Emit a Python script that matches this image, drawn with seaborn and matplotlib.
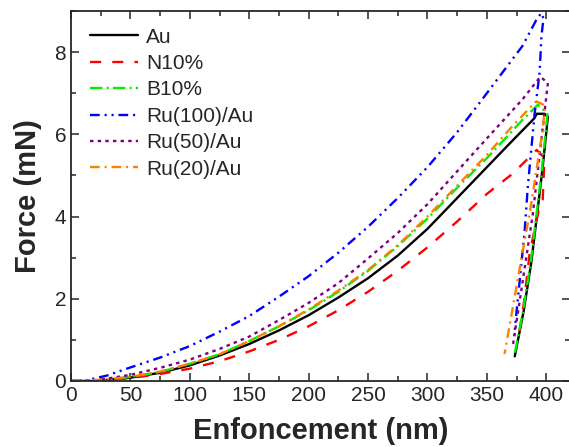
import numpy as np
import matplotlib
matplotlib.use("Agg")
import matplotlib.pyplot as plt
from matplotlib.ticker import MultipleLocator
import seaborn as sns

sns.set_style("ticks")
plt.rcParams['font.family'] = ['Liberation Sans', 'DejaVu Sans']
plt.rcParams['lines.scale_dashes'] = False

# loading + unloading curves (depth in nm, force in mN)
au_depth = [0, 20, 50, 75, 100, 125, 150, 175, 200, 225, 250, 275, 300, 325, 350, 370, 390,
            392, 398.6, 401.4, 397, 392.5, 387.5, 381, 373.5]
au_force = [0, 0, 0.08, 0.2, 0.38, 0.62, 0.9, 1.23, 1.6, 2.03, 2.5, 3.05, 3.7, 4.45, 5.2, 5.8, 6.39,
            6.5, 6.5, 6.43, 5.2, 4.1, 2.9, 1.7, 0.6]

n10_depth = [0, 20, 50, 75, 100, 125, 150, 175, 200, 225, 250, 275, 300, 325, 350, 372, 392,
             398.5, 397, 394, 386, 381.5, 376.5]
n10_force = [0, 0, 0.07, 0.17, 0.3, 0.48, 0.72, 1.0, 1.33, 1.72, 2.17, 2.68, 3.25, 3.88, 4.55, 5.05, 5.62,
             5.42, 4.4, 4.2, 3.1, 1.97, 1.0]

b10_depth = [0, 20, 50, 75, 100, 125, 150, 175, 200, 225, 250, 275, 300, 325, 350, 380, 393,
             401, 396.5, 392, 387, 380.5, 373]
b10_force = [0, 0, 0.1, 0.22, 0.42, 0.65, 0.97, 1.33, 1.72, 2.17, 2.68, 3.28, 3.95, 4.7, 5.42, 6.35, 6.72,
             6.5, 5.2, 4.1, 2.9, 1.7, 0.6]

ru100_depth = [0, 10, 30, 50, 75, 100, 125, 150, 175, 200, 225, 250, 275, 300, 325, 350, 380, 391.6, 395.8,
               397.7, 396, 394.4, 390.2, 384.5, 381.7, 376, 373]
ru100_force = [0, 0, 0.13, 0.33, 0.57, 0.85, 1.2, 1.58, 2.05, 2.55, 3.12, 3.75, 4.45, 5.2, 6.05, 7.0, 8.15, 8.78, 8.95,
               8.82, 8.4, 7.5, 6.5, 4.73, 3.6, 1.97, 1.1]

ru50_depth = [0, 20, 50, 75, 100, 125, 150, 175, 200, 225, 250, 275, 300, 325, 350, 380, 395,
              401.4, 396, 388.7, 379, 372]
ru50_force = [0, 0.01, 0.15, 0.32, 0.52, 0.78, 1.08, 1.48, 1.9, 2.38, 2.98, 3.6, 4.3, 5.1, 5.9, 6.85, 7.4,
              7.25, 5.9, 4.06, 2.2, 0.88]

ru20_depth = [0, 25, 50, 75, 100, 125, 150, 175, 200, 225, 250, 275, 300, 325, 350, 370, 387, 392,
              399, 397, 390, 387.4, 375.6, 364.9]
ru20_force = [0, 0.03, 0.1, 0.23, 0.42, 0.65, 0.97, 1.33, 1.74, 2.2, 2.7, 3.3, 4.0, 4.75, 5.5, 6.15, 6.67, 6.8,
              6.7, 6.1, 4.8, 4.32, 2.4, 0.66]

labels = ["Au", "N10%", "B10%", "Ru(100)/Au", "Ru(50)/Au", "Ru(20)/Au"]
colors = ["black", "#FF0000", "#00F000", "#0000FF", "#800080", "#FF8000"]
styles = ["-", (0, (8, 8)), (0, (9, 3, 1.5, 3)), (0, (7, 3.5, 1.5, 3.5, 1.5, 3.5)),
          (0, (2.5, 3)), (0, (7, 3.5, 1.5, 3.5))]

series = [(au_depth, au_force), (n10_depth, n10_force), (b10_depth, b10_force),
          (ru100_depth, ru100_force), (ru50_depth, ru50_force), (ru20_depth, ru20_force)]

fig = plt.figure(figsize=(5.69, 4.47), dpi=100)
ax = fig.add_axes([71/569, 66/447, 499/569, 370/447])

for (d, f), lab, c, ls in zip(series, labels, colors, styles):
    sns.lineplot(x=d, y=f, sort=False, estimator=None, ax=ax,
                 color=c, linestyle=ls, linewidth=1.7, label=lab)

ax.set_xlim(0, 420)
ax.set_ylim(0, 9)
ax.xaxis.set_major_locator(MultipleLocator(50))
ax.xaxis.set_minor_locator(MultipleLocator(25))
ax.yaxis.set_major_locator(MultipleLocator(2))
ax.yaxis.set_minor_locator(MultipleLocator(1))
ax.tick_params(which="both", direction="in", top=True, right=True, labelsize=15, width=1.1)
ax.tick_params(which="major", length=6)
ax.tick_params(which="minor", length=3.5)
for s in ax.spines.values():
    s.set_linewidth(1.3)

ax.set_xlabel("Enfoncement (nm)", fontsize=21, fontweight="bold", labelpad=9)
ax.set_ylabel("Force (mN)", fontsize=21, fontweight="bold", labelpad=9)

ax.legend(loc="upper left", bbox_to_anchor=(0.038, 0.955), frameon=False, fontsize=15,
          handlelength=2.3, handletextpad=0.4, labelspacing=0.355, borderpad=0, borderaxespad=0)

plt.savefig("out.png", dpi=100)
